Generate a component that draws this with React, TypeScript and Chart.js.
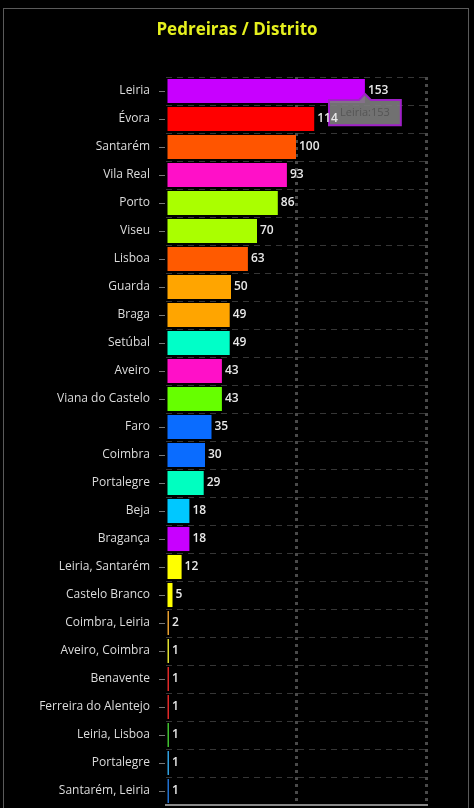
import React, { useEffect, useRef } from "react";
import { Chart, registerables } from "chart.js";

Chart.register(...registerables);

const TITLE = "Pedreiras / Distrito";

const categories: string[] = [
  "Leiria", "Évora", "Santarém", "Vila Real", "Porto", "Viseu", "Lisboa",
  "Guarda", "Braga", "Setúbal", "Aveiro", "Viana do Castelo", "Faro",
  "Coimbra", "Portalegre", "Beja", "Bragança", "Leiria, Santarém",
  "Castelo Branco", "Coimbra, Leiria", "Aveiro, Coimbra", "Benavente",
  "Ferreira do Alentejo", "Leiria, Lisboa", "Portalegre", "Santarém, Leiria",
];

const counts: number[] = [
  153, 114, 100, 93, 86, 70, 63, 50, 49, 49, 43, 43, 35, 30, 29, 18, 18, 12,
  5, 2, 1, 1, 1, 1, 1, 1,
];

const barColors: string[] = [
  "#c800ff", "#ff0000", "#ff5500", "#ff10c8", "#aaff00", "#aaff00", "#ff5a00",
  "#ffa500", "#ffa500", "#00ffc8", "#ff10c8", "#66ff00", "#0a6cff", "#0a6cff",
  "#00ffc0", "#00c8ff", "#c800ff", "#ffff00", "#ffff00", "#e8a030", "#e0e030",
  "#e02828", "#e02828", "#40c030", "#30a0e0", "#2070d0",
];

const xTicks: number[] = [0, 100, 200];

const FONT = "'Open Sans', 'DejaVu Sans', sans-serif";

const titlePlugin = {
  id: "centeredTitle",
  afterDraw(chart: any) {
    const ctx = chart.ctx;
    ctx.save();
    ctx.font = `bold 17px ${FONT}`;
    ctx.fillStyle = "#e6f01e";
    ctx.textAlign = "center";
    ctx.textBaseline = "middle";
    ctx.fillText(TITLE, 237, 30);
    ctx.restore();
  },
};

const valueLabels = {
  id: "valueLabels",
  afterDraw(chart: any) {
    const ctx = chart.ctx;
    const meta = chart.getDatasetMeta(0);
    ctx.save();
    ctx.font = `600 12px ${FONT}`;
    ctx.fillStyle = "#e8e8e8";
    ctx.textAlign = "left";
    ctx.textBaseline = "middle";
    meta.data.forEach((bar: any, i: number) => {
      ctx.fillText(String(counts[i]), bar.x + 3, bar.y);
    });
    ctx.restore();
  },
};

const yTickMarks = {
  id: "yTickMarks",
  afterDraw(chart: any) {
    const ctx = chart.ctx;
    const y = chart.scales.y;
    const left = chart.chartArea.left;
    ctx.save();
    ctx.strokeStyle = "#777";
    ctx.lineWidth = 1;
    categories.forEach((_, i) => {
      const py = Math.round(y.getPixelForValue(i)) + 0.5;
      ctx.beginPath();
      ctx.moveTo(left - 7, py);
      ctx.lineTo(left - 1, py);
      ctx.stroke();
    });
    ctx.restore();
  },
};

export default function App() {
  const canvasRef = useRef<HTMLCanvasElement | null>(null);

  useEffect(() => {
    if (!canvasRef.current) return;
    const chart = new Chart(canvasRef.current, {
      type: "bar",
      data: {
        labels: categories,
        datasets: [
          {
            data: counts,
            backgroundColor: barColors,
            borderWidth: 0,
            categoryPercentage: 1,
            barPercentage: 0.86,
            minBarLength: 3,
          },
        ],
      },
      options: {
        indexAxis: "y",
        responsive: false,
        animation: false,
        events: [],
        layout: { padding: { left: 0, right: 48, top: 77, bottom: 3 } },
        plugins: {
          legend: { display: false },
          title: { display: false },
          tooltip: {
            enabled: true,
            backgroundColor: "rgba(125,125,125,0.9)",
            borderColor: "#a020c8",
            borderWidth: 2,
            cornerRadius: 0,
            displayColors: false,
            caretSize: 6,
            caretPadding: 3,
            xAlign: "center",
            yAlign: "top",
            padding: { left: 11, right: 11, top: 6, bottom: 6 },
            bodyColor: "#555555",
            bodyFont: { family: FONT, size: 11 },
            callbacks: {
              title: () => "",
              label: (c: any) => `${c.label}:${c.raw}`,
            },
          },
        },
        scales: {
          x: {
            min: 0,
            max: 200,
            afterBuildTicks: (scale: any) => {
              scale.ticks = xTicks.map((v) => ({ value: v }));
            },
            ticks: { display: false },
            afterFit: (scale: any) => {
              scale.height = 0;
              scale.paddingLeft = 0;
              scale.paddingRight = 0;
            },
            grid: {
              drawTicks: false,
              color: (c: any) => (c.tick && c.tick.value === 0 ? "rgba(0,0,0,0)" : "#4a4a4a"),
              lineWidth: 3,
            },
            border: { display: true, color: "#8a8a8a", width: 2, dash: [3, 4] },
          },
          y: {
            afterFit: (scale: any) => {
              scale.width = 166;
              scale.paddingTop = 0;
              scale.paddingBottom = 0;
            },
            ticks: {
              color: "#dcdcdc",
              font: { family: FONT, size: 12 },
              padding: 16,
              autoSkip: false,
            },
            grid: {
              offset: true,
              drawTicks: false,
              color: "#363636",
              lineWidth: 1,
            },
            border: { display: false, dash: [6, 5] },
          },
        },
      },
      plugins: [valueLabels, yTickMarks, titlePlugin],
    } as any);

    chart.tooltip!.setActiveElements([{ datasetIndex: 0, index: 0 }], { x: 0, y: 0 });
    chart.update();

    return () => chart.destroy();
  }, []);

  return (
    <div
      style={{
        position: "fixed",
        left: 0,
        top: 0,
        width: 474,
        height: 808,
        background: "#000",
        overflow: "hidden",
      }}
    >
      <div
        style={{
          position: "absolute",
          left: 3,
          top: 8,
          width: 464,
          height: 830,
          border: "1px solid #5a5a5a",
        }}
      />
      <canvas
        ref={canvasRef}
        width={474}
        height={808}
        style={{ position: "absolute", left: 0, top: 0, display: "block" }}
      />
    </div>
  );
}
